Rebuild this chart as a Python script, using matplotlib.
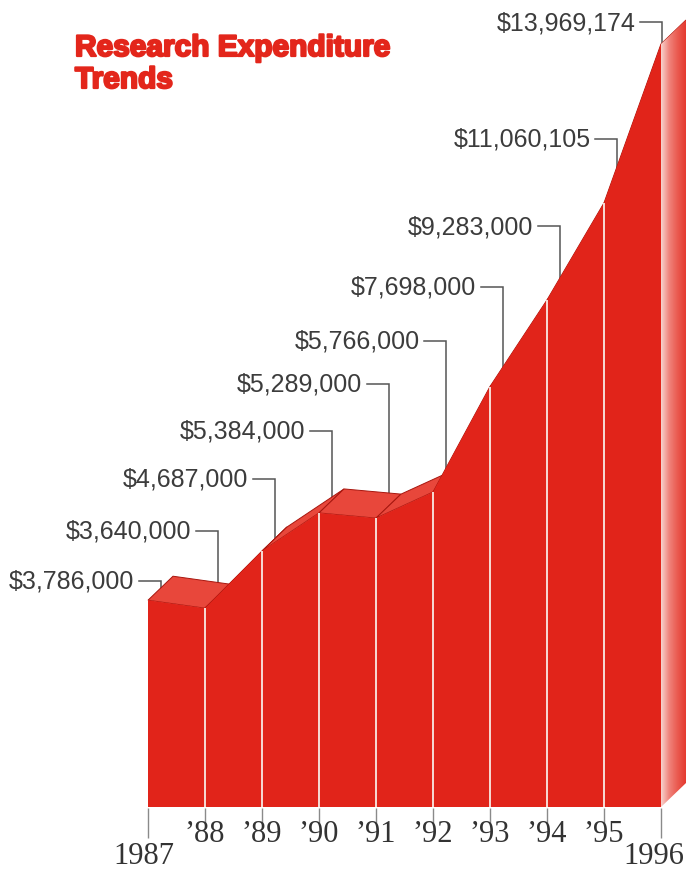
import numpy as np
import matplotlib.pyplot as plt
from matplotlib.patches import Polygon
from matplotlib.colors import LinearSegmentedColormap
import matplotlib.patheffects as pe

# data
years = [1987, 1988, 1989, 1990, 1991, 1992, 1993, 1994, 1995, 1996]
spending = [3786000, 3640000, 4687000, 5384000, 5289000,
            5766000, 7698000, 9283000, 11060105, 13969174]
tick_labels = ["1987", "\u201988", "\u201989", "\u201990", "\u201991",
               "\u201992", "\u201993", "\u201994", "\u201995", "1996"]
value_labels = ["$" + format(v, ",") for v in spending]

# layout: where the callouts sit (pixels from the top of the picture)
label_px = [582, 532, 480, 432, 385, 342, 288, 227, 140, 23]

W, H = 686, 870
PX_YEAR = 57.0      # pixels per year
PX_M = 54.62        # pixels per million
X_LEFT = 148        # pixel of first year
Y_BASE = 808        # pixel of zero


def px_x(p):
    return years[0] + (p - X_LEFT) / PX_YEAR


def px_y(p):
    return (Y_BASE - p) / PX_M


def dx_px(p):
    return p / PX_YEAR


def dy_px(p):
    return p / PX_M


x = np.array(years, dtype=float)
y = np.array(spending) / 1e6

front = "#e1241a"
top_col = "#e8473b"
edge = "#a8160e"
dx, dy = dx_px(25), dy_px(24)

fig = plt.figure(figsize=(W / 100, H / 100), dpi=100)
ax = fig.add_axes([0, 0, 1, 1])
ax.axis("off")

# top faces (extruded ribbon), front face drawn over them later
for i in range(len(x) - 1):
    quad = [(x[i], y[i]), (x[i + 1], y[i + 1]),
            (x[i + 1] + dx, y[i + 1] + dy), (x[i] + dx, y[i] + dy)]
    ax.add_patch(Polygon(quad, closed=True, facecolor=top_col,
                         edgecolor=edge, lw=0.7, zorder=3))

# right side face with a light gradient
side = Polygon([(x[-1], 0), (x[-1], y[-1]), (x[-1] + dx, y[-1] + dy),
                (x[-1] + dx, dy)], closed=True, facecolor="none",
               edgecolor="none", zorder=4)
ax.add_patch(side)
grad = np.linspace(0, 1, 64)
cmap = LinearSegmentedColormap.from_list(
    "side", ["#f7d2cc", "#f0827a", "#ea5a50", "#e53a2f"])
img = ax.imshow(grad[np.newaxis, :], cmap=cmap, aspect="auto",
                extent=(x[-1], x[-1] + dx, 0, y[-1] + dy),
                zorder=4, interpolation="bilinear")
img.set_clip_path(side)
ax.set_xlim(px_x(0), px_x(W))
ax.set_ylim(px_y(H), px_y(0))

# front face
fx = np.concatenate([[x[0]], x, [x[-1]]])
fy = np.concatenate([[0], y, [0]])
ax.add_patch(Polygon(np.column_stack([fx, fy]), closed=True,
                     facecolor=front, edgecolor="none", zorder=5))

# white dividers between years
ax.vlines(x[1:-1], 0, y[1:-1], color="#f7dcd6", lw=1.4, zorder=6)

# ticks below the base
ax.vlines(x[1:-1], px_y(Y_BASE + 1), px_y(824), color="#8a8a8a", lw=1.0)
ax.vlines([x[0], x[-1]], px_y(Y_BASE + 1), px_y(839), color="#8a8a8a", lw=1.0)
last = len(years) - 1
for i, lab in enumerate(tick_labels):
    if i == 0:
        ax.text(x[i] - dx_px(4), px_y(857), lab, ha="center", va="center",
                fontsize=22, family="Liberation Serif", color="#333333")
    elif i == last:
        ax.text(px_x(W - 2), px_y(857), lab, ha="right", va="center",
                fontsize=22, family="Liberation Serif", color="#333333")
    else:
        ax.text(x[i], px_y(835), lab, ha="center", va="center",
                fontsize=22, family="Liberation Serif", color="#333333")

# callouts with leader lines (drawn under the shape)
for i, lab in enumerate(value_labels):
    lx = x[i] + (dx * 0.5 if i < last else dx_px(1))
    ly = px_y(label_px[i])
    tip = y[i] + (dy * 0.5 if i < last else 0)
    ax.plot([lx - dx_px(22), lx, lx], [ly, ly, tip], color="#555555",
            lw=1.1, zorder=2, solid_joinstyle="miter")
    ax.text(lx - dx_px(26), ly, lab, ha="right", va="center",
            fontsize=18, family="Liberation Sans", color="#3c3c3c")

# title
for line, py in (("Research Expenditure", 49), ("Trends", 81)):
    fig.text(75 / W, 1 - py / H, line, ha="left", va="center",
             fontsize=21.5, fontweight="bold", family="Liberation Sans",
             color="#e3261b",
             path_effects=[pe.withStroke(linewidth=1.6, foreground="#e3261b")])

fig.savefig("out.png", dpi=100)
